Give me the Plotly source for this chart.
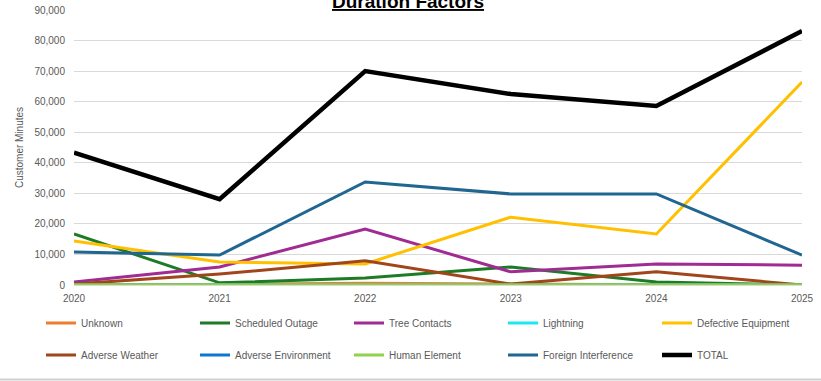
import plotly.graph_objects as go

years = [2020, 2021, 2022, 2023, 2024, 2025]

unknown = [100, 200, 600, 300, 100, 0]
scheduled_outage = [16700, 700, 2300, 5900, 1000, 0]
tree_contacts = [1000, 5900, 18300, 4300, 6900, 6500]
lightning = [0, 0, 0, 0, 0, 0]
defective_equipment = [14400, 7500, 6900, 22200, 16700, 66400]
adverse_weather = [300, 3600, 7900, 300, 4300, 0]
adverse_environment = [0, 0, 0, 0, 0, 0]
human_element = [100, 100, 100, 100, 100, 100]
foreign_interference = [10800, 9800, 33700, 29800, 29800, 9800]
total = [43300, 28100, 70000, 62500, 58600, 83100]

series = [
    ("Unknown", unknown, "#ED7D31", 3, "legend"),
    ("Scheduled Outage", scheduled_outage, "#1F7A26", 3, "legend"),
    ("Tree Contacts", tree_contacts, "#A02B93", 3, "legend"),
    ("Lightning", lightning, "#1BE8F0", 3, "legend"),
    ("Defective Equipment", defective_equipment, "#FFC000", 3, "legend"),
    ("Adverse Weather", adverse_weather, "#A0461A", 3, "legend2"),
    ("Adverse Environment", adverse_environment, "#0F76D0", 3, "legend2"),
    ("Human Element", human_element, "#92D050", 3, "legend2"),
    ("Foreign Interference", foreign_interference, "#1F6690", 3, "legend2"),
    ("TOTAL", total, "#000000", 4.5, "legend2"),
]

fig = go.Figure()
for name, vals, color, w, lg in series:
    fig.add_trace(go.Scatter(
        x=years, y=vals, name=name, mode="lines",
        line=dict(color=color, width=w), legend=lg,
    ))

font_family = "Liberation Sans"
gray = "#595959"
L, R, T, B = 74, 19, 10, 96
plot_w = 821 - L - R
plot_h = 381 - T - B

def px_x(x):
    return (x - L) / plot_w

def px_y(y):
    return (381 - B - y) / plot_h

legend_common = dict(
    orientation="h", entrywidth=109, entrywidthmode="pixels",
    itemwidth=30, font=dict(family=font_family, size=10, color=gray),
    bgcolor="rgba(0,0,0,0)", borderwidth=0,
    xanchor="left", yanchor="middle", traceorder="normal",
    itemclick=False,
)

fig.update_layout(
    width=821, height=381,
    margin=dict(l=L, r=R, t=T, b=B, autoexpand=False),
    paper_bgcolor="white", plot_bgcolor="white",
    font=dict(family=font_family, color=gray),
    xaxis=dict(
        range=[2020, 2025], tickmode="array", tickvals=years,
        ticktext=[str(y) for y in years], showgrid=False, zeroline=False,
        showline=True, linecolor="#d9d9d9", linewidth=1,
        tickfont=dict(size=10, color=gray), ticks="", ticklabelstandoff=4,
    ),
    yaxis=dict(
        range=[0, 90000], dtick=10000, tickformat=",d",
        showgrid=True, gridcolor="#d9d9d9", gridwidth=1, zeroline=False,
        tickfont=dict(size=10, color=gray), ticks="", ticklabelstandoff=8,
        title=dict(text="Customer Minutes", font=dict(size=10, color=gray), standoff=8),
    ),
    legend=dict(x=px_x(41), y=px_y(323), **legend_common),
    legend2=dict(x=px_x(41), y=px_y(355), **legend_common),
    showlegend=True,
)

fig.add_annotation(
    text="<b><u>Duration Factors</u></b>", xref="paper", yref="paper",
    x=px_x(408), y=px_y(1), xanchor="center", yanchor="middle",
    showarrow=False, font=dict(family=font_family, size=19, color="#000000"),
)

fig.add_shape(type="line", xref="paper", yref="paper",
              x0=px_x(0), x1=px_x(821), y0=px_y(379.5), y1=px_y(379.5),
              line=dict(color="#d0d0d0", width=2), layer="above")

fig.write_html("out.html")
